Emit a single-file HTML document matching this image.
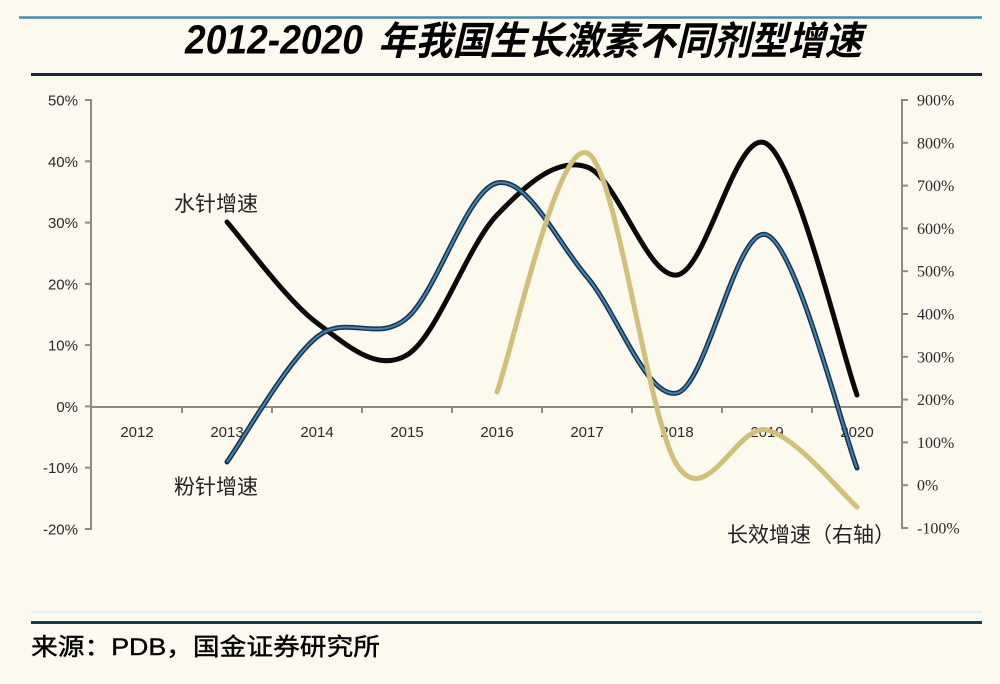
<!DOCTYPE html>
<html><head><meta charset="utf-8"><style>
html,body{margin:0;padding:0;background:#fcf9ef;}
svg{display:block;}
</style></head><body>
<svg width="1000" height="684" viewBox="0 0 1000 684" xmlns="http://www.w3.org/2000/svg">
<rect x="0" y="0" width="1000" height="684" fill="#fcf9ef"/>
<!-- header lines -->
<line x1="19" y1="17.5" x2="982" y2="17.5" stroke="#3b8dbd" stroke-width="2.5"/>
<line x1="31" y1="74.5" x2="982" y2="74.5" stroke="#16283a" stroke-width="3"/>
<!-- title -->
<text x="185" y="53.5" font-family="Liberation Sans, Noto Sans CJK SC, sans-serif" font-weight="bold" font-style="italic" fill="#000"><tspan font-size="41" textLength="178" lengthAdjust="spacingAndGlyphs">2012-2020</tspan><tspan x="378" y="54.5" font-size="39" font-family="Noto Sans CJK SC, sans-serif" textLength="484" lengthAdjust="spacingAndGlyphs">年我国生长激素不同剂型增速</tspan></text>

<!-- axes -->
<g stroke="#8a8a86" stroke-width="2" fill="none">
<line x1="91" y1="99" x2="91" y2="530"/>
<line x1="902" y1="99" x2="902" y2="529"/>
<line x1="91" y1="407" x2="902" y2="407"/>
<!-- left ticks -->
<line x1="85" y1="100" x2="91" y2="100"/>
<line x1="85" y1="161.3" x2="91" y2="161.3"/>
<line x1="85" y1="222.6" x2="91" y2="222.6"/>
<line x1="85" y1="283.9" x2="91" y2="283.9"/>
<line x1="85" y1="345.1" x2="91" y2="345.1"/>
<line x1="85" y1="406.4" x2="91" y2="406.4"/>
<line x1="85" y1="467.7" x2="91" y2="467.7"/>
<line x1="85" y1="529" x2="91" y2="529"/>
<!-- right ticks -->
<line x1="902" y1="100" x2="908" y2="100"/>
<line x1="902" y1="142.8" x2="908" y2="142.8"/>
<line x1="902" y1="185.6" x2="908" y2="185.6"/>
<line x1="902" y1="228.4" x2="908" y2="228.4"/>
<line x1="902" y1="271.2" x2="908" y2="271.2"/>
<line x1="902" y1="314" x2="908" y2="314"/>
<line x1="902" y1="356.8" x2="908" y2="356.8"/>
<line x1="902" y1="399.6" x2="908" y2="399.6"/>
<line x1="902" y1="442.4" x2="908" y2="442.4"/>
<line x1="902" y1="485.2" x2="908" y2="485.2"/>
<line x1="902" y1="528" x2="908" y2="528"/>
<!-- category ticks -->
<line x1="182" y1="407" x2="182" y2="413"/>
<line x1="272" y1="407" x2="272" y2="413"/>
<line x1="362" y1="407" x2="362" y2="413"/>
<line x1="452" y1="407" x2="452" y2="413"/>
<line x1="542" y1="407" x2="542" y2="413"/>
<line x1="632" y1="407" x2="632" y2="413"/>
<line x1="722" y1="407" x2="722" y2="413"/>
<line x1="812" y1="407" x2="812" y2="413"/>
</g>

<!-- left labels -->
<g font-family="Liberation Sans, sans-serif" font-size="15" fill="#2a2a2a" text-anchor="end">
<text x="78" y="105.5">50%</text>
<text x="78" y="166.8">40%</text>
<text x="78" y="228">30%</text>
<text x="78" y="289.3">20%</text>
<text x="78" y="350.5">10%</text>
<text x="78" y="411.8">0%</text>
<text x="78" y="473">-10%</text>
<text x="78" y="534.3">-20%</text>
</g>
<!-- right labels -->
<g font-family="Liberation Serif, serif" font-size="16" fill="#2a2a2a">
<text x="917" y="105.5">900%</text>
<text x="917" y="148.3">800%</text>
<text x="917" y="191.1">700%</text>
<text x="917" y="233.9">600%</text>
<text x="917" y="276.7">500%</text>
<text x="917" y="319.5">400%</text>
<text x="917" y="362.3">300%</text>
<text x="917" y="405.1">200%</text>
<text x="917" y="447.9">100%</text>
<text x="917" y="490.7">0%</text>
<text x="917" y="533.5">-100%</text>
</g>
<!-- x labels -->
<g font-family="Liberation Sans, sans-serif" font-size="15" fill="#2a2a2a" text-anchor="middle">
<text x="137" y="437">2012</text>
<text x="227" y="437">2013</text>
<text x="317" y="437">2014</text>
<text x="407" y="437">2015</text>
<text x="497" y="437">2016</text>
<text x="587" y="437">2017</text>
<text x="677" y="437">2018</text>
<text x="767" y="437">2019</text>
<text x="857" y="437">2020</text>
</g>

<!-- series -->
<path d="M227,222 C242,238.8 287,300.8 317,323 C347,345.2 377,373 407,355 C437,337 467,246.3 497,215 C527,183.7 557,157 587,167 C617,177 647,278.8 677,275 C707,271.2 737,124 767,144 C797,164 842,353.2 857,395" fill="none" stroke="#0a0a0a" stroke-width="5" stroke-linecap="round"/>
<path d="M227,462 C242,441.2 287,361 317,337 C347,313 377,343.7 407,318 C437,292.3 467,189.8 497,183 C527,176.2 557,242 587,277 C617,312 647,400 677,393 C707,386 737,222.5 767,235 C797,247.5 842,429.2 857,468" fill="none" stroke="#1b3146" stroke-width="5" stroke-linecap="round"/>
<path d="M227,462 C242,441.2 287,361 317,337 C347,313 377,343.7 407,318 C437,292.3 467,189.8 497,183 C527,176.2 557,242 587,277 C617,312 647,400 677,393 C707,386 737,222.5 767,235 C797,247.5 842,429.2 857,468" fill="none" stroke="#3b86bd" stroke-width="2"/>
<path d="M497,392 C512,351.7 557,140.8 587,153 C617,165.2 647,418.8 677,465 C707,511.2 737,423 767,430 C797,437 842,494.2 857,507" fill="none" stroke="#d2bf78" stroke-width="5" stroke-linecap="round"/>

<!-- annotations -->
<g font-family="Noto Sans CJK SC, sans-serif" font-size="21" fill="#222">
<text x="174" y="211">水针增速</text>
<text x="174" y="494">粉针增速</text>
<text x="727" y="542">长效增速（右轴）</text>
</g>

<!-- footer -->
<line x1="31" y1="612" x2="982" y2="612" stroke="#e6eef2" stroke-width="2"/>
<line x1="31" y1="622.5" x2="982" y2="622.5" stroke="#1c3a4e" stroke-width="3"/>
<text x="31" y="655" font-family="Liberation Sans, Noto Sans CJK SC, sans-serif" font-size="24" fill="#000" stroke="#000" stroke-width="0.4" textLength="349" lengthAdjust="spacingAndGlyphs">来源：PDB，国金证券研究所</text>
</svg>
</body></html>
